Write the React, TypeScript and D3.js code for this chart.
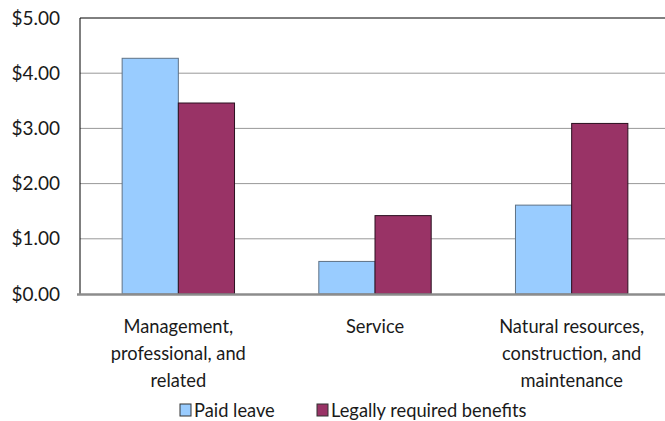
import React from "react";
import * as d3 from "d3";

const categories = ["Management, professional, and related", "Service", "Natural resources, construction, and maintenance"];
const categoryLines = [
  ["Management,", "professional, and", "related"],
  ["Service"],
  ["Natural resources,", "construction, and", "maintenance"],
];
const seriesNames = ["Paid leave", "Legally required benefits"];
const paidLeave = [4.27, 0.59, 1.61];
const legallyRequired = [3.46, 1.42, 3.09];
const yTicks = [0, 1, 2, 3, 4, 5];

const colors = ["#99CCFF", "#993366"];
const strokes = ["#5f7286", "#2a1020"];

export default function App() {
  const width = 665;
  const height = 421;
  const left = 80, right = 670, top = 18, bottom = 294;
  const font = "Lato, 'Open Sans', sans-serif";

  const x = d3.scaleBand<string>().domain(categories).range([left, right]);
  const step = x.bandwidth();
  const barW = step / 3.5;
  const x1 = d3.scaleBand<string>().domain(seriesNames).range([0, barW * 2]);
  const y = d3.scaleLinear().domain([0, 5]).range([bottom, top]);
  const fmt = d3.format("$.2f");
  const values = [paidLeave, legallyRequired];

  return (
    <svg width={width} height={height} style={{ position: "absolute", left: 0, top: 0, background: "#fff" }}>
      {/* grid */}
      {yTicks.filter((t) => t > 0 && t < 5).map((t) => (
        <line key={t} x1={left} x2={width} y1={y(t)} y2={y(t)} stroke="#999" strokeWidth={1} />
      ))}
      <line x1={left} x2={width} y1={y(5)} y2={y(5)} stroke="#000" strokeWidth={1} />
      <line x1={left} x2={left} y1={y(5)} y2={y(0)} stroke="#000" strokeWidth={1} />

      {/* bars */}
      {values.map((vals, si) =>
        vals.map((v, ci) => {
          const bx = (x(categories[ci]) as number) + (step - barW * 2) / 2 + (x1(seriesNames[si]) as number);
          return (
            <rect key={`${si}-${ci}`} x={bx} y={y(v)} width={barW} height={y(0) - y(v)}
              fill={colors[si]} stroke={strokes[si]} strokeWidth={1} />
          );
        })
      )}

      {/* baseline */}
      <line x1={left - 3} x2={width} y1={y(0) + 0.5} y2={y(0) + 0.5} stroke="#8c8c8c" strokeWidth={2.5} />

      {/* y labels */}
      {yTicks.map((t) => (
        <text key={t} x={60} y={y(t)} dy="0.35em" textAnchor="end" fontFamily={font} fontSize={19} fill="#1a1a1a">
          {fmt(t)}
        </text>
      ))}

      {/* category labels */}
      {categories.map((c, ci) => (
        <text key={c} x={(x(c) as number) + step / 2} textAnchor="middle" fontFamily={font} fontSize={18.3} fill="#1a1a1a">
          {categoryLines[ci].map((ln, li) => (
            <tspan key={li} x={(x(c) as number) + step / 2} y={333 + li * 27}>{ln}</tspan>
          ))}
        </text>
      ))}

      {/* legend */}
      {seriesNames.map((s, si) => {
        const lx = si === 0 ? 180 : 317;
        return (
          <g key={s}>
            <rect x={lx} y={404} width={11} height={12} fill={colors[si]} stroke="#333" strokeWidth={1} />
            <text x={lx + 14} y={417} fontFamily={font} fontSize={18.3} fill="#1a1a1a">{s}</text>
          </g>
        );
      })}
    </svg>
  );
}
